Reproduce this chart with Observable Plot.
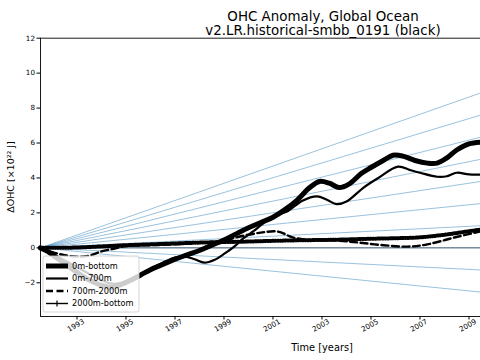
<!DOCTYPE html>
<html>
<head>
<meta charset="utf-8">
<script src="https://cdn.jsdelivr.net/npm/d3@7"></script>
<script src="https://cdn.jsdelivr.net/npm/@observablehq/plot@0.6"></script>
<style>
  html, body { margin: 0; padding: 0; background: white; }
  #chart { width: 480px; height: 360px; overflow: hidden; }
</style>
</head>
<body>
<div id="chart"></div>
<script>
// ---------- data ----------
const titleLines = ["OHC Anomaly, Global Ocean", "v2.LR.historical-smbb_0191 (black)"];
const xLabel = "Time [years]";
const yLabel = "ΔOHC [×10²² J]";
const xTicks = [1993, 1995, 1997, 1999, 2001, 2003, 2005, 2007, 2009];
const yTicks = [-2, 0, 2, 4, 6, 8, 10, 12];
const seriesNames = ["0m-bottom", "0m-700m", "700m-2000m", "2000m-bottom"];

// reference trend lines (×10²² J per year)
const trendSlopes = [-0.141, -0.0705, 0, 0.0705, 0.141, 0.2115, 0.282, 0.3525, 0.423, 0.4935];

const bottomT = [1991.5, 1991.8, 1992.2, 1992.6, 1993.0, 1993.5, 1994.0, 1994.4, 1994.8, 1995.2, 1995.6, 1996.0, 1996.5, 1997.0, 1997.5, 1998.0, 1998.5, 1999.0, 1999.5, 2000.0, 2000.5, 2001.0, 2001.5, 2002.0, 2002.5, 2002.9, 2003.3, 2003.7, 2004.1, 2004.6, 2005.0, 2005.5, 2005.9, 2006.3, 2006.8, 2007.3, 2007.7, 2008.1, 2008.5, 2009.0, 2009.5];
const bottomV = [0, -0.2, -0.6, -1.0, -1.4, -1.85, -2.15, -2.25, -2.1, -1.85, -1.55, -1.25, -0.95, -0.65, -0.4, -0.15, 0.15, 0.45, 0.8, 1.15, 1.45, 1.75, 2.2, 2.75, 3.45, 3.8, 3.7, 3.45, 3.65, 4.25, 4.6, 5.0, 5.3, 5.25, 5.0, 4.85, 4.85, 5.15, 5.6, 5.95, 6.05];

const upperT = [1991.5, 1991.8, 1992.2, 1992.6, 1993.0, 1993.5, 1994.0, 1994.4, 1994.8, 1995.2, 1995.6, 1996.0, 1996.5, 1997.0, 1997.4, 1997.8, 1998.2, 1998.6, 1999.0, 1999.4, 1999.8, 2000.2, 2000.6, 2001.0, 2001.6, 2002.2, 2002.8, 2003.2, 2003.6, 2004.0, 2004.7, 2005.3, 2006.1, 2006.6, 2007.0, 2007.7, 2008.1, 2008.5, 2009.0, 2009.5];
const upperV = [0, -0.2, -0.5, -0.8, -1.1, -1.5, -1.85, -2.05, -2.0, -1.8, -1.5, -1.2, -0.85, -0.55, -0.5, -0.65, -0.85, -0.7, -0.35, 0.05, 0.55, 0.95, 1.4, 1.8, 2.1, 2.7, 2.95, 2.75, 2.5, 2.65, 3.45, 4.0, 4.65, 4.45, 4.3, 4.07, 4.1, 4.3, 4.2, 4.19];

const midT = [1991.5, 1992.0, 1992.5, 1993.0, 1993.5, 1994.0, 1994.5, 1995.0, 1996.0, 1997.0, 1998.0, 1999.0, 1999.5, 2000.5, 2001.2, 2001.8, 2002.5, 2003.6, 2004.5, 2005.5, 2006.5, 2007.3, 2008.4, 2009.5];
const midV = [0, -0.25, -0.42, -0.5, -0.45, -0.2, -0.05, 0.1, 0.15, 0.2, 0.3, 0.4, 0.6, 0.87, 0.93, 0.6, 0.45, 0.42, 0.3, 0.15, 0.07, 0.2, 0.59, 0.95];

const deepT = [1991.5, 1992.0, 1993.0, 1994.0, 1995.0, 1996.0, 1997.0, 1998.0, 1999.0, 2000.0, 2001.0, 2002.0, 2003.0, 2004.0, 2005.0, 2006.0, 2007.0, 2008.0, 2009.0, 2009.5];
const deepV = [0, 0.0, 0.02, 0.08, 0.15, 0.2, 0.25, 0.3, 0.33, 0.36, 0.4, 0.43, 0.45, 0.48, 0.52, 0.55, 0.6, 0.75, 0.95, 1.05];

// ---------- tables ----------
const xDomain = [1991.51, 2009.47];
const yDomain = [-3.93, 12];
const trends = trendSlopes.flatMap((s, i) => [
  {k: i, t: xDomain[0], v: 0},
  {k: i, t: xDomain[1], v: s * (xDomain[1] - xDomain[0])}
]);
const toRows = (T, V) => T.map((t, i) => ({t, v: V[i]}));
const bottom = toRows(bottomT, bottomV);
const upper = toRows(upperT, upperV);
const mid = toRows(midT, midV);
const deep = toRows(deepT, deepV);

const font = "DejaVu Sans, Liberation Sans, sans-serif";

const chart = Plot.plot({
  width: 480,
  height: 360,
  marginLeft: 40,
  marginRight: 0,
  marginTop: 37.7,
  marginBottom: 44,
  x: {domain: xDomain},
  y: {domain: yDomain},
  style: {fontFamily: font, background: "white", color: "black"},
  marks: [
    Plot.line(trends, {x: "t", y: "v", z: "k", stroke: "#1f77b4", strokeOpacity: 0.45, strokeWidth: 1}),
    Plot.ruleY([0], {stroke: "#5a6a78", strokeWidth: 1}),
    Plot.line(deep, {x: "t", y: "v", stroke: "black", strokeWidth: 1.2, curve: "catmull-rom"}),
    Plot.line(deep, {x: "t", y: "v", stroke: "black", strokeWidth: 4, strokeDasharray: "0.8,1.7", curve: "catmull-rom"}),
    Plot.line(mid, {x: "t", y: "v", stroke: "black", strokeWidth: 2.4, strokeDasharray: "7,3.5", curve: "catmull-rom"}),
    Plot.line(upper, {x: "t", y: "v", stroke: "black", strokeWidth: 2.2, curve: "catmull-rom", strokeLinejoin: "round"}),
    Plot.line(bottom, {x: "t", y: "v", stroke: "black", strokeWidth: 5, curve: "catmull-rom", strokeLinejoin: "round"}),
    Plot.ruleX([xDomain[0]], {stroke: "black", strokeWidth: 0.9}),
    Plot.ruleY([yDomain[0], yDomain[1]], {stroke: "black", strokeWidth: 0.9}),
    Plot.axisY({ticks: yTicks, tickSize: 3.5, tickPadding: 2, fontSize: 7.2, label: null}),
    Plot.axisX({ticks: xTicks, tickSize: 3.5, tickFormat: () => "", label: null}),
    Plot.text(xTicks, {x: d => d, frameAnchor: "bottom", dy: 11, rotate: -30, text: d => String(d), fontSize: 7.2, textAnchor: "middle"})
  ]
});

document.getElementById("chart").appendChild(chart);

// ---------- titles, labels, legend ----------
const svg = d3.select(chart);
svg.append("text").attr("x", 323).attr("y", 21).attr("text-anchor", "middle")
  .attr("font-size", 13.4).attr("font-family", font).text(titleLines[0]);
svg.append("text").attr("x", 323).attr("y", 34.5).attr("text-anchor", "middle")
  .attr("font-size", 13.4).attr("font-family", font).text(titleLines[1]);
svg.append("text").attr("x", 322).attr("y", 351).attr("text-anchor", "middle")
  .attr("font-size", 9.8).attr("font-family", font).text(xLabel);
svg.append("text").attr("transform", "translate(14,177) rotate(-90)").attr("text-anchor", "middle")
  .attr("font-size", 9.5).attr("font-family", font).text(yLabel);

const lg = svg.append("g");
lg.append("rect").attr("x", 43).attr("y", 256).attr("width", 96).attr("height", 56).attr("rx", 2)
  .attr("fill", "white").attr("fill-opacity", 0.8).attr("stroke", "#cccccc").attr("stroke-width", 0.8);
const rowY = [266, 278.5, 291, 303.5];
const sampleStyles = [
  {w: 5, dash: null},
  {w: 2.2, dash: null},
  {w: 2.4, dash: "7,3.5"},
  {w: 1.4, dash: null}
];
seriesNames.forEach((name, i) => {
  const y = rowY[i];
  const s = sampleStyles[i];
  const ln = lg.append("line").attr("x1", 46).attr("x2", 68).attr("y1", y).attr("y2", y)
    .attr("stroke", "black").attr("stroke-width", s.w);
  if (s.dash) ln.attr("stroke-dasharray", s.dash);
  if (i === 3) {
    lg.append("line").attr("x1", 57).attr("x2", 57).attr("y1", y - 3).attr("y2", y + 3)
      .attr("stroke", "black").attr("stroke-width", 1.2);
  }
  lg.append("text").attr("x", 72).attr("y", y).attr("dy", "0.35em").attr("text-anchor", "start")
    .attr("font-size", 8.2).attr("font-family", font).text(name);
});
</script>
</body>
</html>
